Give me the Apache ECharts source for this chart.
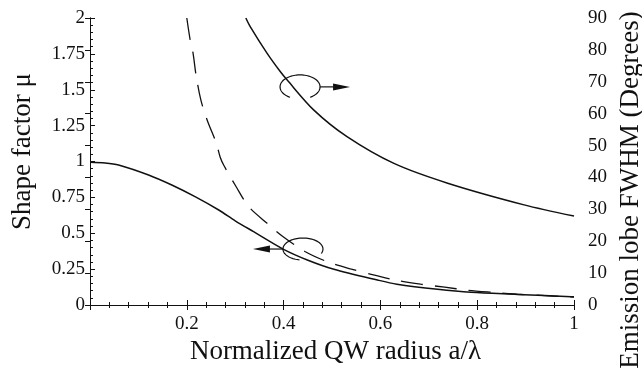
<!DOCTYPE html>
<html><head><meta charset="utf-8">
<script src="https://cdn.jsdelivr.net/npm/echarts@6/dist/echarts.min.js"></script>
<style>html,body{margin:0;padding:0;background:#fff}#c{width:642px;height:371px}</style>
</head><body><div id="c"></div>
<script>
// Shape factor mu (solid, left axis)
const muX = [0, 0.031, 0.059, 0.121, 0.169, 0.217, 0.266, 0.300, 0.338, 0.400, 0.449, 0.504, 0.594, 0.634, 0.718, 0.787, 0.883, 0.994, 1.0];
const muY = [0.995, 0.99, 0.976, 0.906, 0.836, 0.755, 0.662, 0.587, 0.511, 0.388, 0.314, 0.249, 0.174, 0.145, 0.109, 0.088, 0.074, 0.058, 0.057];
// Shape factor approximation (dashed, left axis)
const dashX = [0.2, 0.207, 0.213, 0.219, 0.229, 0.242, 0.261, 0.269, 0.277, 0.302, 0.328, 0.366, 0.397, 0.445, 0.49, 0.538, 0.583, 0.634, 0.683, 0.733, 0.78, 0.832, 0.883, 0.932, 0.98, 1.0];
const dashY = [2.0, 1.847, 1.754, 1.603, 1.429, 1.289, 1.127, 1.03, 0.97, 0.824, 0.685, 0.569, 0.481, 0.371, 0.302, 0.252, 0.212, 0.172, 0.145, 0.124, 0.103, 0.088, 0.075, 0.067, 0.058, 0.055];
// Emission lobe FWHM (solid, right axis)
const fwhmX = [0.322, 0.331, 0.366, 0.393, 0.407, 0.462, 0.531, 0.628, 0.739, 0.897, 1.0];
const fwhmY = [90, 87.3, 78.9, 73.2, 70.6, 61.2, 52.8, 44.4, 38.2, 31.4, 27.9];

const xTicks = [0.2, 0.4, 0.6, 0.8, 1];
const xTitle = 'Normalized QW radius a/\u03bb';
const yLeftTitle = 'Shape factor \u03bc';
const yRightTitle = 'Emission lobe FWHM (Degrees)';

const pair = (xs, ys) => xs.map((x, i) => [x, ys[i]]);
const FONT = '"Liberation Serif", "DejaVu Serif", serif';
const INK = '#111';

const chart = echarts.init(document.getElementById('c'), null, {renderer: 'canvas'});
const tickCommon = {show: true, inside: true, length: 5, lineStyle: {color: INK, width: 1}};
const minorCommon = {show: true, splitNumber: 5, length: 3, lineStyle: {color: INK, width: 1}};
chart.setOption({
  animation: false,
  backgroundColor: '#fff',
  grid: {left: 90, right: 68, top: 18, bottom: 66, containLabel: false, outerBoundsMode: 'none'},
  xAxis: [{
    type: 'value', min: 0, max: 1, interval: 0.2, position: 'bottom',
    name: xTitle, nameLocation: 'middle', nameGap: 33,
    nameTextStyle: {fontFamily: FONT, fontSize: 27, color: INK, padding: [0, 0, 0, 7]},
    axisLine: {show: true, lineStyle: {color: INK, width: 1}},
    axisTick: tickCommon, minorTick: minorCommon,
    axisLabel: {fontFamily: FONT, fontSize: 19, color: INK, margin: 10,
      formatter: v => (xTicks.indexOf(Math.round(v * 10) / 10) >= 0 ? String(Math.round(v * 10) / 10) : '')},
    splitLine: {show: false}
  }, {
    type: 'value', min: 0, max: 1, interval: 0.2, position: 'top',
    axisLine: {show: true, lineStyle: {color: INK, width: 1}},
    axisTick: tickCommon, minorTick: minorCommon,
    axisLabel: {show: false}, splitLine: {show: false}
  }],
  yAxis: [{
    type: 'value', min: 0, max: 2, interval: 0.25, position: 'left',
    name: yLeftTitle, nameLocation: 'middle', nameGap: 54, nameRotate: 90,
    nameTextStyle: {fontFamily: FONT, fontSize: 27, color: INK, padding: [0, 0, 0, 20]},
    axisLine: {show: true, lineStyle: {color: INK, width: 1}},
    axisTick: tickCommon, minorTick: minorCommon,
    axisLabel: {fontFamily: FONT, fontSize: 19, color: INK, margin: 5},
    splitLine: {show: false}
  }, {
    type: 'value', min: 0, max: 90, interval: 10, position: 'right',
    name: yRightTitle, nameLocation: 'middle', nameGap: 43, nameRotate: 90,
    nameTextStyle: {fontFamily: FONT, fontSize: 27, color: INK, padding: [0, 57, 0, 0]},
    axisLine: {show: true, lineStyle: {color: INK, width: 1}},
    axisTick: tickCommon,
    axisLabel: {fontFamily: FONT, fontSize: 19, color: INK, margin: 14},
    splitLine: {show: false}
  }],
  series: [{
    type: 'line', name: 'mu', xAxisIndex: 0, yAxisIndex: 0, data: pair(muX, muY),
    smooth: 0.3, symbol: 'none', lineStyle: {color: INK, width: 1.5}
  }, {
    type: 'line', name: 'mu approx', xAxisIndex: 0, yAxisIndex: 0, data: pair(dashX, dashY),
    smooth: 0.3, symbol: 'none', lineStyle: {color: INK, width: 1.3, type: [22, 12]}
  }, {
    type: 'line', name: 'FWHM', xAxisIndex: 0, yAxisIndex: 1, data: pair(fwhmX, fwhmY),
    smooth: 0.3, symbol: 'none', lineStyle: {color: INK, width: 1.5}
  }]
});

// Annotation anchors (data coordinates on left axis)
const annoUpper = [0.434, 1.52];
const annoLower = [0.44, 0.39];
function ellipsePts(c, rx, ry, a0, a1) {
  const pts = [];
  for (let a = a0; a <= a1; a += 4) {
    const r = a * Math.PI / 180;
    pts.push([c[0] + rx * Math.cos(r), c[1] + ry * Math.sin(r)]);
  }
  return pts;
}
const pu = chart.convertToPixel({xAxisIndex: 0, yAxisIndex: 0}, annoUpper);
const pl = chart.convertToPixel({xAxisIndex: 0, yAxisIndex: 0}, annoLower);
const st = {stroke: INK, fill: 'none', lineWidth: 1.2};
chart.setOption({
  graphic: [
    {type: 'polyline', shape: {points: ellipsePts(pu, 20, 12, 120, 422)}, style: st, silent: true},
    {type: 'line', shape: {x1: pu[0] + 20, y1: pu[1], x2: pu[0] + 36, y2: pu[1]}, style: st, silent: true},
    {type: 'polygon', shape: {points: [[pu[0] + 33, pu[1] - 3.5], [pu[0] + 50, pu[1]], [pu[0] + 33, pu[1] + 3.5]]}, style: {fill: INK}, silent: true},
    {type: 'polyline', shape: {points: ellipsePts(pl, 20, 11, 100, 385)}, style: st, silent: true},
    {type: 'line', shape: {x1: pl[0] - 20, y1: pl[1], x2: pl[0] - 36, y2: pl[1]}, style: st, silent: true},
    {type: 'polygon', shape: {points: [[pl[0] - 33, pl[1] - 3.5], [pl[0] - 50, pl[1]], [pl[0] - 33, pl[1] + 3.5]]}, style: {fill: INK}, silent: true}
  ]
});
</script>
</body></html>
